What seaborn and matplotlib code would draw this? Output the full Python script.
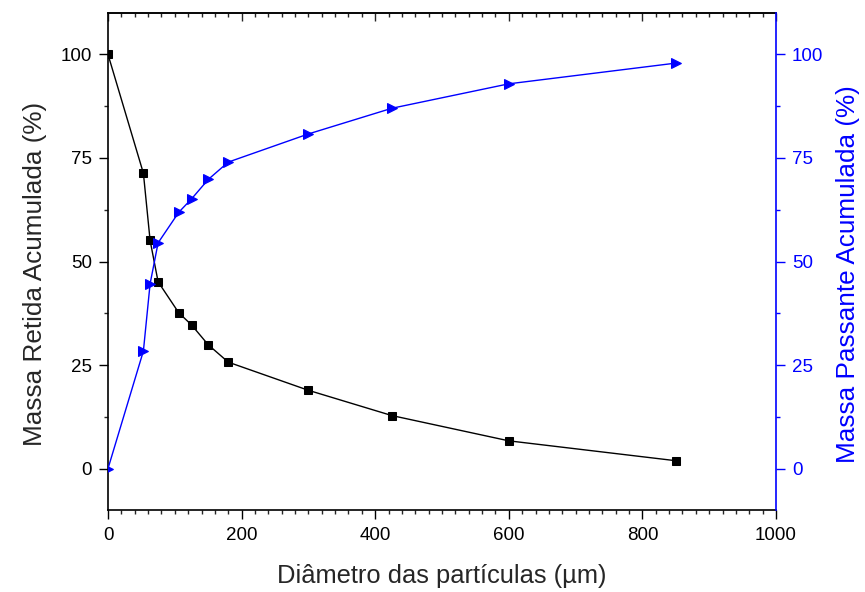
import matplotlib
matplotlib.use("Agg")
import matplotlib.pyplot as plt
from matplotlib.ticker import MultipleLocator
import seaborn as sns
import pandas as pd

# Data
diametro = [0, 53, 63, 75, 106, 125, 150, 180, 300, 425, 600, 850]
retida = [100, 71.3, 55.1, 45.1, 37.6, 34.7, 29.9, 25.7, 18.9, 12.8, 6.7, 1.9]
passante = [0, 28.4, 44.6, 54.5, 61.9, 65.1, 69.8, 74.0, 80.8, 87.0, 92.9, 97.9]

xlabel = "Diâmetro das partículas (µm)"
ylabel_left = "Massa Retida Acumulada (%)"
ylabel_right = "Massa Passante Acumulada (%)"

sns.set_style("ticks")
plt.rcParams["font.family"] = ["Liberation Sans", "DejaVu Sans"]

df = pd.DataFrame({"d": diametro, "ret": retida, "pas": passante})

fig = plt.figure(figsize=(8.65, 5.92), dpi=100)
ax = fig.add_axes([108 / 865, 1 - 510 / 592, (776 - 108) / 865, (510 - 13) / 592])
ax2 = ax.twinx()

sns.lineplot(data=df, x="d", y="ret", ax=ax, color="black", marker="s",
             markersize=6, markeredgecolor="black", linewidth=1.0, sort=False)
sns.lineplot(data=df, x="d", y="pas", ax=ax2, color="#0000FF", marker=">",
             markersize=6.5, markeredgecolor="#0000FF", linewidth=1.0, sort=False)

for a in (ax, ax2):
    a.set_xlim(0, 1000)
    a.set_ylim(-10, 110)
    a.yaxis.set_major_locator(MultipleLocator(25))
    a.yaxis.set_minor_locator(MultipleLocator(12.5))

ax.xaxis.set_major_locator(MultipleLocator(200))
ax.xaxis.set_minor_locator(MultipleLocator(20))

ax.tick_params(axis="both", which="major", direction="out", length=6.5, width=1.0,
               labelsize=13.5, colors="black", pad=5)
ax.tick_params(axis="both", which="minor", direction="out", length=3.2, width=1.0)
ax.tick_params(axis="x", which="major", pad=6)
ax.tick_params(axis="y", which="both", right=False)

ax2.tick_params(axis="y", which="major", direction="out", length=6.5, width=1.0,
                labelsize=13.5, colors="#0000FF", pad=5)
ax2.tick_params(axis="y", which="minor", direction="out", length=3.2, width=1.0,
                colors="#0000FF")

# top inward ticks
top = ax.secondary_xaxis("top")
top.xaxis.set_major_locator(MultipleLocator(200))
top.xaxis.set_minor_locator(MultipleLocator(20))
top.tick_params(which="major", direction="in", length=6.0, width=1.0, labeltop=False)
top.tick_params(which="minor", direction="in", length=3.0, width=1.0)
top.spines["top"].set_linewidth(1.2)

for s in ["left", "bottom", "top"]:
    ax.spines[s].set_visible(True)
    ax.spines[s].set_color("black")
    ax.spines[s].set_linewidth(1.2)
ax.spines["right"].set_visible(False)
ax2.spines["right"].set_visible(True)
ax2.spines["right"].set_color("#0000FF")
ax2.spines["right"].set_linewidth(1.2)
for s in ["left", "bottom", "top"]:
    ax2.spines[s].set_visible(False)

ax.set_xlabel(xlabel, fontsize=18.4, labelpad=14)
ax.set_ylabel(ylabel_left, fontsize=18.8, labelpad=10)
ax2.set_ylabel(ylabel_right, fontsize=18.8, color="#0000FF", labelpad=9)
ax.yaxis.label.set_y(0.475)
ax2.yaxis.label.set_y(0.475)

fig.savefig("out.png", dpi=100)
